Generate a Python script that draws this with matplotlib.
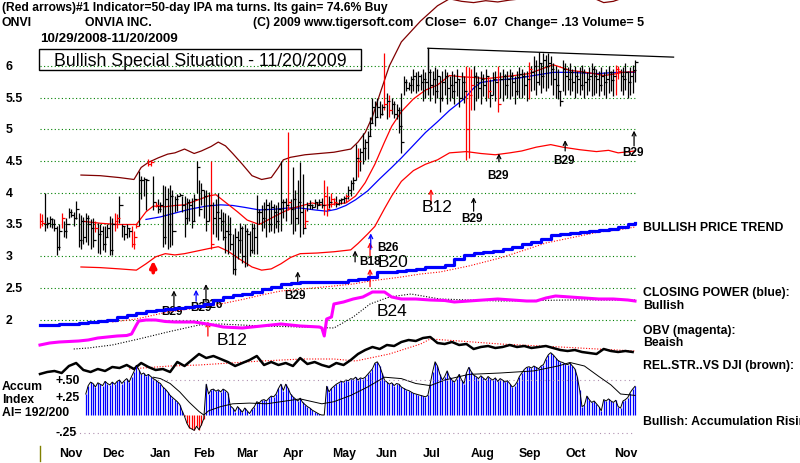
import numpy as np
import matplotlib
matplotlib.use("Agg")
import matplotlib.pyplot as plt
from matplotlib.patches import Rectangle

plt.rcParams['font.family'] = ['Liberation Sans', 'DejaVu Sans']

# ---------------- data (bar index 0 = 10/29/2008, 247 = 11/20/2009) ----------------
highs = [3.68,3.66,4.00,3.62,3.63,3.60,3.58,3.47,3.50,3.68,
         3.55,3.60,3.76,3.74,3.70,3.87,3.68,3.65,3.62,3.68,
         3.65,3.58,3.60,3.55,3.52,3.50,3.48,3.48,3.50,3.63,
         3.60,3.68,3.66,3.95,3.50,3.48,3.50,3.45,3.47,3.40,
         3.50,4.35,4.27,4.25,4.22,4.53,4.52,4.27,3.85,3.90,
         3.85,4.13,4.10,4.08,4.12,4.05,3.95,3.98,4.00,3.95,
         3.95,3.92,3.90,3.92,3.98,4.50,4.20,4.15,4.05,4.05,
         4.02,4.50,3.85,3.90,4.00,3.75,3.70,3.68,3.65,3.62,
         3.35,3.45,3.40,3.52,3.48,3.50,3.45,3.40,3.52,3.50,
         3.97,3.75,3.80,3.85,3.90,3.85,3.88,3.82,3.80,3.85,
         4.50,3.90,3.92,4.96,3.90,4.40,4.05,4.20,4.48,4.30,
         3.75,3.85,3.88,3.82,3.90,3.85,3.90,3.92,4.20,4.10,
         3.95,4.00,3.92,3.95,3.90,3.92,3.95,3.98,4.10,4.20,
         4.25,4.77,4.70,4.70,4.95,4.85,4.98,5.20,5.50,5.45,
         5.50,5.45,5.40,6.20,5.58,5.55,5.50,5.45,5.40,5.35,
         5.58,5.84,5.80,5.75,5.85,5.95,5.90,5.92,5.88,5.95,
         5.90,6.28,5.95,5.92,5.98,5.96,5.85,5.92,5.95,5.90,
         5.85,5.92,5.88,5.95,5.80,5.90,5.85,6.00,5.98,5.96,
         6.00,5.90,5.85,5.92,5.88,5.95,5.85,5.80,5.90,5.92,
         6.00,5.90,5.95,5.88,5.92,5.95,5.90,5.85,5.92,5.98,
         5.95,5.90,5.92,6.07,6.00,6.15,6.10,6.22,6.05,6.20,
         6.18,6.20,6.15,6.05,6.00,5.95,5.60,6.10,6.05,5.98,
         6.05,5.95,6.00,5.92,5.98,6.02,5.95,5.90,5.98,6.05,
         6.00,5.95,5.92,5.98,5.90,5.95,6.00,5.92,5.96,6.02,
         6.00,5.95,5.98,6.05,5.92,5.98,6.02,6.10]
lows = [3.44,3.48,3.39,3.44,3.46,3.44,3.40,3.02,3.10,3.45,
        3.30,3.28,3.60,3.62,3.48,3.58,3.15,3.12,3.20,3.22,
        3.18,3.12,3.15,3.38,3.05,3.04,3.10,3.06,3.30,3.02,
        3.02,3.40,3.45,3.52,3.30,3.26,3.28,3.30,3.15,3.12,
        3.44,3.48,3.90,3.95,3.73,4.43,4.42,3.73,3.78,3.68,
        3.70,3.15,3.20,3.12,3.15,3.18,3.70,3.72,3.95,3.70,
        3.30,3.50,3.55,3.45,3.55,4.00,3.63,3.80,3.60,3.40,
        3.55,3.12,3.35,3.30,3.25,3.40,3.25,3.05,3.04,3.10,
        2.72,2.70,2.95,3.05,2.90,2.83,2.85,3.00,3.05,3.04,
        3.04,3.50,3.40,3.45,3.30,3.38,3.40,3.36,3.45,3.38,
        3.40,3.60,3.55,3.73,3.50,3.35,3.40,3.50,3.30,3.35,
        3.45,3.72,3.75,3.74,3.78,3.74,3.80,3.76,3.65,3.63,
        3.76,3.78,3.80,3.78,3.80,3.82,3.84,3.86,3.90,3.95,
        4.05,4.20,4.25,4.35,4.45,4.52,4.53,4.90,5.10,5.05,
        5.20,5.18,5.22,5.30,5.16,5.20,5.25,5.18,5.16,4.95,
        4.63,5.55,5.60,5.62,5.58,5.60,5.58,5.60,5.62,5.45,
        5.50,5.55,5.45,5.55,5.42,5.50,5.27,5.45,5.55,5.40,
        5.45,5.50,5.40,5.52,5.35,5.48,5.42,4.52,4.55,5.30,
        5.30,5.45,5.50,5.40,5.52,5.45,5.50,5.35,5.55,5.45,
        5.27,5.50,5.45,5.55,5.50,5.48,5.52,5.40,5.55,5.50,
        5.50,5.55,5.45,5.48,5.60,5.62,5.55,5.70,5.58,5.65,
        5.60,5.65,5.70,5.55,5.50,5.48,5.37,5.60,5.55,5.62,
        5.55,5.60,5.50,5.58,5.55,5.62,5.50,5.55,5.60,5.52,
        5.55,5.58,5.52,5.60,5.55,5.50,5.58,5.60,5.52,5.55,
        5.80,5.60,5.55,5.62,5.50,5.55,5.58,5.75]
closes = [3.55,3.52,3.50,3.52,3.58,3.50,3.45,3.15,3.40,3.60,
          3.40,3.50,3.70,3.65,3.60,3.75,3.25,3.55,3.30,3.60,
          3.50,3.45,3.25,3.45,3.35,3.40,3.20,3.30,3.45,3.10,
          3.50,3.55,3.60,3.80,3.48,3.35,3.45,3.40,3.20,3.30,
          3.48,4.20,4.20,4.22,4.20,4.45,4.48,3.85,3.80,3.75,
          3.80,3.30,3.90,3.50,3.95,3.40,3.90,3.95,3.97,3.80,
          3.60,3.85,3.80,3.55,3.90,4.40,3.75,4.05,3.95,3.55,
          3.80,3.20,3.60,3.70,3.60,3.55,3.30,3.40,3.35,3.20,
          2.80,3.30,3.25,3.45,3.00,3.40,3.35,3.10,3.45,3.30,
          3.70,3.70,3.60,3.75,3.80,3.50,3.78,3.70,3.55,3.75,
          3.85,3.85,3.80,3.85,3.75,3.90,3.60,3.85,3.70,3.45,
          3.55,3.80,3.80,3.78,3.85,3.80,3.85,3.80,3.95,3.75,
          3.85,3.90,3.85,3.82,3.88,3.90,3.92,3.95,4.05,4.15,
          4.20,4.55,4.50,4.65,4.70,4.80,4.90,5.10,5.35,5.20,
          5.35,5.25,5.35,5.40,5.45,5.30,5.40,5.25,5.30,5.05,
          4.80,5.75,5.65,5.70,5.80,5.85,5.70,5.85,5.75,5.80,
          5.75,5.90,5.70,5.80,5.60,5.85,5.50,5.75,5.85,5.65,
          5.70,5.60,5.75,5.80,5.50,5.75,5.60,5.00,5.55,5.70,
          5.85,5.75,5.65,5.80,5.70,5.85,5.60,5.55,5.80,5.75,
          5.40,5.80,5.85,5.70,5.80,5.85,5.75,5.60,5.82,5.88,
          5.85,5.70,5.80,5.95,5.90,6.00,5.75,6.05,5.85,6.10,
          6.00,6.05,5.95,5.80,5.70,5.60,5.45,5.95,5.85,5.80,
          5.90,5.75,5.85,5.80,5.70,5.90,5.75,5.80,5.85,5.95,
          5.85,5.80,5.70,5.85,5.75,5.80,5.90,5.78,5.85,5.95,
          5.92,5.85,5.80,5.90,5.75,5.85,5.94,6.07]
red_bars = [0,1,9,23,31,32,38,39,40,45,46,48,71,103,110,118,119,121,122,127,
            132,143,145,177,178,179,186,190,203,239,240]

# moving averages / bands: (bar index, price)
ma_red_x = [18,25,32,40,44,47,52,56,60,65,70,73,77,82,86,91,96,100,104,108,113,118,122,127,131,
            135,139,143,146,150,155,160,165,170,175,180,185,190,197,203,208,213,217,220,225,230,
            234,238,242,247]
ma_red_y = [3.55,3.52,3.50,3.50,3.70,3.79,3.78,3.80,3.81,3.88,3.95,3.97,3.85,3.70,3.57,3.50,3.60,
            3.68,3.75,3.79,3.84,3.80,3.82,3.84,3.95,4.16,4.45,4.80,5.05,5.28,5.48,5.62,5.70,5.85,
            5.83,5.82,5.80,5.82,5.85,5.88,5.95,6.02,5.97,5.93,5.91,5.88,5.85,5.87,5.90,5.91]
ma_blue_x = [44,50,56,62,69,75,80,85,91,97,103,108,114,119,123,127,131,136,141,146,150,155,160,
             165,170,176,180,183,190,197,205,213,220,231,240,247]
ma_blue_y = [3.58,3.62,3.68,3.74,3.79,3.81,3.80,3.77,3.73,3.74,3.76,3.76,3.73,3.71,3.74,3.80,3.89,
             4.03,4.22,4.40,4.55,4.75,4.95,5.12,5.30,5.48,5.65,5.74,5.78,5.80,5.85,5.90,5.90,5.88,
             5.90,5.90]
band_up_x = [17,25,33,39,42,45,49,53,56,60,64,67,71,74,77,80,84,88,92,96,99,101,104,110,116,122,
             129,132,135,138,141,145,150,158,165,170,175,180,185,190,195,200,205,215,225,231,234,
             238,241,247]
band_up_y = [4.28,4.27,4.24,4.21,4.40,4.48,4.55,4.61,4.63,4.69,4.62,4.66,4.73,4.80,4.74,4.62,4.45,
             4.27,4.21,4.24,4.40,4.52,4.56,4.60,4.62,4.64,4.69,4.80,4.95,5.20,5.55,6.00,6.38,6.71,
             6.95,7.06,7.02,7.00,7.03,7.01,7.04,7.06,7.10,7.20,7.15,7.05,7.00,7.02,7.06,7.12]
band_lo_x = [17,25,33,40,44,48,52,56,60,65,70,74,78,83,88,92,96,100,104,108,115,122,129,132,136,
             139,143,146,150,155,160,165,170,177,183,189,195,200,206,212,217,224,231,236,240,247]
band_lo_y = [2.83,2.82,2.80,2.78,2.88,2.99,3.04,3.02,3.04,3.08,3.12,3.15,3.08,2.95,2.83,2.78,2.80,
             2.88,2.98,3.04,3.05,3.07,3.10,3.20,3.35,3.47,3.75,3.95,4.18,4.35,4.45,4.52,4.63,4.65,
             4.62,4.60,4.63,4.66,4.72,4.76,4.72,4.68,4.65,4.67,4.63,4.66]
trend_x = [161, 263]
trend_y = [6.28, 6.14]

# Closing power (blue) and its MA
cp_x = [0,4,8,12,16,20,24,28,32,36,40,44,48,52,56,60,64,68,72,76,80,84,88,92,96,100,104,108,112,
        116,120,124,128,132,136,140,144,148,152,156,160,164,168,172,176,180,184,188,192,196,200,
        204,208,212,216,220,224,228,232,236,240,244,247]
cp_v = [4,4.5,5,5,6,7,8,9.5,12,14,16,18.5,19.5,20,21,22,23.5,25.5,29,32.5,34,35,37.5,40,42.5,45,
        46,47,47,47.5,47,47.5,49,50,52,57,57.5,58,59,60,62,62.5,64,70,74,76,77,78.5,80,82.5,85,87,
        90,94,95,96,97,98,99,100,102,105,106]
cp_ma_x = [30,40,53,65,75,85,92,100,109,122,130,137,150,158,166,178,191,200,210,220,232,240,247]
cp_ma_v = [7,10,17,21,25,30,34,38,40,43,45,48,52,55,57,63,71,78,86,91,97,99,102]

# OBV (magenta) and its MA
obv_x = [0,4,8,12,16,20,24,28,32,36,38,40,41,44,48,52,56,60,64,68,72,76,80,84,88,92,96,100,104,
         108,112,116,117,118,119,121,122,126,130,134,138,143,146,150,156,162,168,172,178,184,190,
         196,202,206,210,214,220,226,232,238,244,247]
obv_v = [4,6,7,7.5,8,9,11,12,13,13.5,15,24,28,29,29,27.5,27,27,27,25.5,24,22,21.5,21,22,23,24,25,
         24,23,22.5,22,21,13,30,32,45,47,50,52,57,57,52,50,50,49,48.5,47,48,49,50,49,48,48,51,53,
         52,51,50,50,49,48]
obv_ma_x = [14,20,30,41,53,66,75,92,109,122,130,137,145,154,166,191,220,247]
obv_ma_v = [0,1,4,10,17,24,25,23,22,21,32,45,52,55,50,48,49,49]

# Relative strength vs DJI (every 3rd bar) and its MA
rs_v = [10,12,13,11,18,21,14,12,15,13,17,16,19,15,21,17,14,15,12,22,18,24,30,26,28,25,22,18,21,
        24,28,19,22,19,21,18,26,20,22,19,17,21,19,24,30,34,37,35,39,38,42,44,43,46,47,41,40,42,
        39,40,35,37,38,36,37,39,37,38,36,37,38,36,34,33,34,32,31,30,35,33,32,33,32]
rs_ma_x = [37,54,66,92,109,122,131,145,158,162,174,191,216,247]
rs_ma_v = [15,18,19,23,25,25,23,30,40,45,43,40,37,33]

# Accumulation index (bars start at index 19)
ai_start = 19
ai_v = [0.30,0.42,0.47,0.45,0.40,0.46,0.44,0.42,0.48,0.45,
        0.43,0.47,0.44,0.48,0.50,0.45,0.49,0.52,0.47,0.55,
        0.62,0.71,0.65,0.58,0.60,0.56,0.58,0.55,0.52,0.50,
        0.47,0.45,0.40,0.37,0.33,0.28,0.25,0.22,0.19,0.15,
        0.06,-0.02,-0.12,-0.18,-0.20,-0.22,-0.16,-0.21,-0.14,-0.05,
        0.44,0.30,0.36,0.37,0.34,0.36,0.33,0.37,0.35,0.32,
        0.13,0.10,0.05,0.12,0.08,0.04,0.10,0.06,0.02,0.08,
        0.12,0.19,0.17,0.21,0.22,0.20,0.24,0.27,0.26,0.30,
        0.38,0.44,0.35,0.44,0.38,0.30,0.26,0.23,0.20,0.24,
        0.18,0.15,0.12,0.10,0.07,0.05,0.03,0.01,0.00,0.00,
        0.41,0.33,0.38,0.41,0.44,0.46,0.48,0.47,0.50,0.49,
        0.52,0.51,0.54,0.50,0.53,0.52,0.54,0.58,0.62,0.66,
        0.74,0.76,0.70,0.60,0.50,0.47,0.44,0.46,0.42,0.45,
        0.44,0.40,0.38,0.36,0.35,0.33,0.31,0.30,0.29,0.28,
        0.27,0.26,0.28,0.45,0.62,0.76,0.70,0.58,0.50,0.55,
        0.63,0.54,0.50,0.47,0.52,0.58,0.50,0.45,0.60,0.68,
        0.62,0.57,0.55,0.52,0.56,0.53,0.50,0.55,0.52,0.50,
        0.53,0.48,0.52,0.50,0.47,0.49,0.45,0.40,0.42,0.47,
        0.55,0.60,0.65,0.68,0.69,0.67,0.70,0.68,0.66,0.70,
        0.72,0.80,0.86,0.89,0.86,0.82,0.78,0.76,0.75,0.73,
        0.72,0.74,0.70,0.66,0.55,0.36,0.12,0.14,0.27,0.22,
        0.18,0.20,0.16,0.12,0.06,0.22,0.20,0.23,0.20,0.18,
        0.21,0.12,0.10,0.20,0.22,0.25,0.32,0.37,0.41]
ai_ma_x = [47,50,54,58,62,66,68,70,75,80,87,94,102,108,117,122,129,136,143,150,156,162,168,178,
           191,205,215,220,226,232,237,241,247]
ai_ma_v = [0.54,0.52,0.45,0.33,0.18,0.05,0.0,0.06,0.12,0.16,0.17,0.16,0.20,0.23,0.16,0.19,0.28,
           0.40,0.54,0.52,0.45,0.42,0.50,0.58,0.60,0.63,0.70,0.75,0.70,0.55,0.43,0.30,0.28]

month_labels = ['Nov','Dec','Jan','Feb','Mar','Apr','May','Jun','Jul','Aug','Sep','Oct','Nov']
month_pos = [12.9,30.3,49.8,68.1,85.9,105.0,126.2,144.0,162.7,183.9,203.4,222.5,243.3]
price_levels = [6, 5.5, 5, 4.5, 4, 3.5, 3, 2.5, 2]
price_labels = ['6', '5.5', '5', '4.5', '4', '3.5', '3', '2.5', '2']

# signal arrows: (bar index, from, to, colour) in price units
arrows = [(162.3,3.82,4.06,'red'),(180,3.71,3.93,'black'),(190.5,4.49,4.62,'black'),
          (218,4.66,4.83,'black'),(246.6,4.74,4.98,'black'),(130.8,2.91,3.09,'black'),
          (137,3.00,3.22,'red'),(137.3,3.11,3.36,'blue'),(137,2.52,2.80,'red'),
          (55.6,2.21,2.46,'black'),(64.8,2.29,2.47,'blue'),(68.9,2.28,2.56,'black'),
          (107,2.56,2.76,'black'),(69.7,1.74,1.97,'red')]
small_labels = [(179.3,3.60,'B29'),(190,4.28,'B29'),(217.5,4.52,'B29'),(246,4.64,'B29'),
                (137,2.92,'B18'),(144.5,3.14,'B26'),(55,2.14,'B29'),(67,2.20,'B29'),
                (71.5,2.25,'B26'),(106,2.39,'B29')]
big_labels = [(165,3.79,'B12'),(146.5,2.92,'B20'),(146,2.14,'B24'),(79.7,1.68,'B12')]

# ---------------- layout helpers ----------------
W, H = 800, 464
X0, XPB = 40.0, 2.409          # pixel of bar 0, pixels per bar
def px_price(y):                # pixel row -> price (price panel scale)
    return 6 - (y - 67) / 63.4

fig = plt.figure(figsize=(8, 4.64), dpi=100)
XL = (-X0 / XPB, (W - X0) / XPB)

def make_ax(ylo, yhi, z):
    a = fig.add_axes([0, 0, 1, 1], zorder=z)
    a.set_xlim(*XL)
    a.set_ylim(ylo, yhi)
    a.axis('off')
    a.patch.set_alpha(0)
    return a

ax = make_ax(px_price(464), px_price(0), 1)

def ftext(x, y, s, **kw):
    kw.setdefault('fontweight', 'bold')
    kw.setdefault('fontsize', 8.8)
    kw.setdefault('va', 'center')
    fig.text(x / W, 1 - y / H, s, **kw)

n = len(closes)
idx = np.arange(n)

# price grid
for lv in price_levels:
    ax.plot([0, n - 1], [lv, lv], color='#008000', lw=0.8, ls=(0, (1, 2.2)), zorder=1)
for lv, lb in zip(price_levels, price_labels):
    ax.text(XL[0] + 6 / XPB, lv, lb, fontsize=8.8, fontweight='bold', va='center', ha='left')

# bands and MAs
ax.plot(band_up_x, band_up_y, color='#800000', lw=0.9, zorder=2)
ax.plot(band_lo_x, band_lo_y, color='#ff0000', lw=0.9, zorder=2)
ax.plot(ma_blue_x, ma_blue_y, color='#0000ff', lw=0.9, zorder=3)
ax.plot(ma_red_x, ma_red_y, color='#ff0000', lw=0.9, zorder=3)

# price bars
cols = ['#ff0000' if i in red_bars else 'black' for i in range(n)]
ax.vlines(idx, lows, highs, colors=cols, lw=0.9, zorder=4)
ax.hlines(closes, idx, idx + 1.25, colors=cols, lw=0.9, zorder=4)

# trend line
ax.plot(trend_x, trend_y, color='black', lw=0.9, zorder=4)
ax.plot([trend_x[0], trend_x[0]], [trend_y[0], 5.95], color='black', lw=0.9, zorder=4)

# signals
for x, y0, y1, c in arrows:
    ax.annotate('', xy=(x, y1), xytext=(x, y0),
                arrowprops=dict(arrowstyle='->', color=c, lw=0.9, shrinkA=0, shrinkB=0,
                                mutation_scale=7), zorder=6)
ax.annotate('', xy=(47, 2.93), xytext=(47, 2.74),
            arrowprops=dict(arrowstyle='-|>', color='#ff0000', lw=2.6, shrinkA=0, shrinkB=0,
                            mutation_scale=9), zorder=6)
for x, y, s in small_labels:
    ax.text(x, y, s, fontsize=8.5, fontweight='bold', ha='center', va='center', zorder=7)
for x, y, s in big_labels:
    ax.text(x, y, s, fontsize=12.5, ha='center', va='center', zorder=7)

# small olive tick at the left of the month axis
ax.plot([0, 0], [px_price(447), px_price(462)], color='#808000', lw=1.0)

# closing power
acp = make_ax(330 - 464, 330, 2)
acp.plot(cp_ma_x, cp_ma_v, color='#ff0000', lw=0.8, ls=(0, (1, 1.5)))
acp.plot(cp_x, cp_v, color='#0000ff', lw=2.3, drawstyle='steps-post')

# OBV
aobv = make_ax(350 - 464, 350, 2)
aobv.plot(obv_ma_x, obv_ma_v, color='black', lw=0.8, ls=(0, (1, 1.5)))
aobv.plot(obv_x, obv_v, color='#ff00ff', lw=2.2)

# relative strength
ars = make_ax(385 - 464, 385, 2)
ars.plot(rs_ma_x, rs_ma_v, color='#ff0000', lw=0.8, ls=(0, (1, 1.5)))
ars.plot(np.arange(0, 3 * len(rs_v), 3), rs_v, color='black', lw=1.8)

# accumulation index
aai = make_ax((416 - 464) / 70, 416 / 70, 2)
ai_x = np.arange(ai_start, ai_start + len(ai_v))
ai_arr = np.array(ai_v)
aai.vlines(ai_x, 0, ai_arr, colors=np.where(ai_arr < 0, '#ff0000', '#0000ff'), lw=0.9)
aai.plot(ai_x, ai_arr, color='black', lw=0.7)
aai.plot(ai_ma_x, ai_ma_v, color='black', lw=0.7)
aai.plot([47, 247], [0.5, 0.5], color='#b090b0', lw=0.8, ls=(0, (1, 3)))
aai.plot([14.5, 247], [-0.25, -0.25], color='#b090b0', lw=0.8, ls=(0, (1, 3)))
for lv, lb in [(0.5, '+.50'), (0.25, '+.25'), (-0.25, '-.25')]:
    aai.text(55 / XPB - X0 / XPB, lv, lb, fontsize=8.8, fontweight='bold', va='center', ha='left')

# month labels
for p, m in zip(month_pos, month_labels):
    ax.text(p, px_price(454), m, fontsize=8.8, fontweight='bold', ha='center', va='center')

# header texts
ftext(2, 8, '(Red arrows)#1 Indicator=50-day IPA ma turns. Its gain= 74.6% Buy', fontsize=8.7)
ftext(2, 23, 'ONVI')
ftext(85, 23, 'ONVIA INC.')
ftext(253, 23, '(C) 2009 www.tigersoft.com')
ftext(425, 23, 'Close=  6.07  Change= .13 Volume= 5', fontsize=9.0)
ftext(40, 39, '10/29/2008-11/20/2009', fontsize=9.6)
fig.patches.append(Rectangle((39 / W, 1 - 71 / H), 322 / W, 21 / H, transform=fig.transFigure,
                             fill=False, edgecolor='black', lw=1.0))
fig.text(200 / W, 1 - 61 / H, 'Bullish Special Situation - 11/20/2009', fontsize=12.8,
         ha='center', va='center')

# right side labels
ftext(643, 228, 'BULLISH PRICE TREND')
ftext(643, 293, 'CLOSING POWER (blue):')
ftext(643, 306, 'Bullish')
ftext(643, 331, 'OBV (magenta):')
ftext(643, 343, 'Beaish')
ftext(643, 366, 'REL.STR..VS DJI (brown):')
ftext(643, 422, 'Bullish: Accumulation Rising')
ftext(2, 387, 'Accum')
ftext(2, 400, 'Index')
ftext(2, 413, 'AI= 192/200')

fig.savefig('out.png', dpi=100)
